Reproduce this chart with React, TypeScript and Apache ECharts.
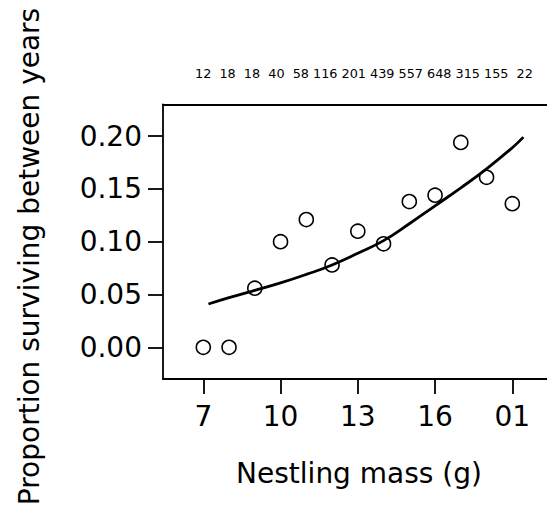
import React, { useEffect, useRef } from "react";
import * as echarts from "echarts";

// Observed survival proportions by nestling mass (g)
const massValues = [7, 8, 9, 10, 11, 12, 13, 14, 15, 16, 17, 18, 19];
const survival = [0.0, 0.0, 0.056, 0.1, 0.121, 0.078, 0.11, 0.098, 0.138, 0.144, 0.194, 0.161, 0.136];
// Sample sizes shown above the plot
const sampleSizes = [12, 18, 18, 40, 58, 116, 201, 439, 557, 648, 315, 155, 22];
// Fitted curve
const fitMass = [7.2, 8, 9, 10, 11, 12, 13, 14, 15, 16, 17, 18, 19, 19.43];
const fitValues = [0.041, 0.047, 0.054, 0.061, 0.069, 0.078, 0.089, 0.101, 0.117, 0.134, 0.151, 0.169, 0.189, 0.199];
// Axis ticks
const xTickValues = [7, 10, 13, 16, 19];
const xTickLabels = ["7", "10", "13", "16", "01"];
const yTickValues = [0, 0.05, 0.1, 0.15, 0.2];

const FONT = "DejaVu Sans";
const X_MIN = 5.435;
const X_MAX = 20.347;

export default function App() {
  const ref = useRef<HTMLDivElement>(null);
  useEffect(() => {
    document.body.style.margin = "0";
    const chart = echarts.init(ref.current!, null, { renderer: "svg" });
    const topText = sampleSizes.map((n) => String(n).padStart(3, " ")).join(" ").replace(/^\s+/, "");
    const lineStyle = { color: "#000", width: 1.8 };
    chart.setOption({
      animation: false,
      backgroundColor: "#fff",
      grid: {
        left: 163,
        top: 104.3,
        right: 0,
        bottom: 126,
        show: false,
      },
      xAxis: [
        {
          type: "value",
          position: "bottom",
          min: X_MIN,
          max: X_MAX,
          splitLine: { show: false },
          axisLine: { show: true, onZero: false, lineStyle },
          axisTick: {
            show: true,
            customValues: xTickValues,
            length: 15,
            lineStyle,
          },
          axisLabel: {
            customValues: xTickValues,
            formatter: (v: number) => {
              const i = xTickValues.findIndex((t) => Math.abs(t - v) < 1e-6);
              return i >= 0 ? xTickLabels[i] : "";
            },
            fontSize: 28,
            fontFamily: FONT,
            color: "#000",
            margin: 23,
          },
          name: "Nestling mass (g)",
          nameLocation: "middle",
          nameGap: 80,
          nameTextStyle: { fontSize: 28, fontFamily: FONT, color: "#000", padding: [0, 0, 0, 8] },
        },
        {
          type: "value",
          position: "top",
          min: X_MIN,
          max: X_MAX,
          splitLine: { show: false },
          axisLine: { show: true, onZero: false, lineStyle },
          axisTick: { show: false },
          axisLabel: { show: false },
        },
      ],
      yAxis: {
        type: "value",
        min: -0.03,
        max: 0.2301,
        splitLine: { show: false },
        axisLine: { show: true, onZero: false, lineStyle },
        axisTick: {
          show: true,
          customValues: yTickValues,
          length: 15,
          lineStyle,
        },
        axisLabel: {
          customValues: yTickValues,
          formatter: (v: number) => v.toFixed(2),
          fontSize: 28,
          fontFamily: FONT,
          color: "#000",
          margin: 21,
        },
      },
      graphic: [
        {
          type: "text",
          x: 29,
          y: 256.5,
          rotation: Math.PI / 2,
          style: {
            text: "Proportion surviving between years",
            font: `28px "${FONT}"`,
            fill: "#000",
            align: "center",
            verticalAlign: "middle",
          },
        },
        {
          type: "text",
          x: 195,
          y: 73.7,
          style: {
            text: topText,
            font: `12.8px "${FONT}"`,
            fill: "#000",
            align: "left",
            verticalAlign: "middle",
          },
        },
      ],
      series: [
        {
          type: "scatter",
          xAxisIndex: 0,
          data: massValues.map((m, i) => [m, survival[i]]),
          symbol: "circle",
          symbolSize: 14,
          itemStyle: { color: "transparent", borderColor: "#000", borderWidth: 1.6, opacity: 1 },
          z: 2,
        },
        {
          type: "line",
          xAxisIndex: 0,
          data: fitMass.map((m, i) => [m, fitValues[i]]),
          smooth: true,
          showSymbol: false,
          lineStyle: { color: "#000", width: 2.8 },
          z: 3,
        },
      ],
    });
    return () => chart.dispose();
  }, []);
  return <div ref={ref} style={{ width: 547, height: 505 }} />;
}
